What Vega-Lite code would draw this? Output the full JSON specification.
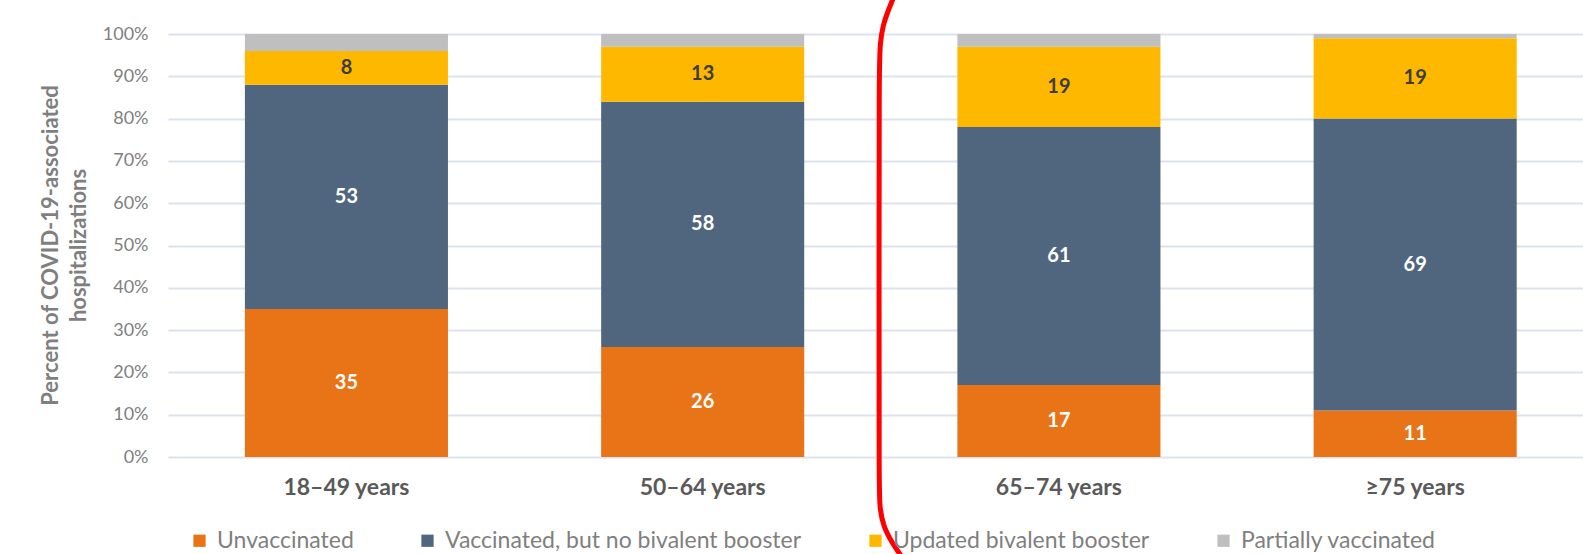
{
  "$schema": "https://vega.github.io/schema/vega-lite/v6.json",
  "width": 1415,
  "height": 423,
  "autosize": {"type": "none"},
  "padding": {"left": 168, "top": 34, "right": 0, "bottom": 97},
  "background": "#ffffff",
  "datasets": {
    "shares": [
      {"age": "18–49 years", "status": "Unvaccinated", "rank": 1, "pct": 35},
      {"age": "18–49 years", "status": "Vaccinated, but no bivalent booster", "rank": 2, "pct": 53},
      {"age": "18–49 years", "status": "Updated bivalent booster", "rank": 3, "pct": 8},
      {"age": "18–49 years", "status": "Partially vaccinated", "rank": 4, "pct": 4},
      {"age": "50–64 years", "status": "Unvaccinated", "rank": 1, "pct": 26},
      {"age": "50–64 years", "status": "Vaccinated, but no bivalent booster", "rank": 2, "pct": 58},
      {"age": "50–64 years", "status": "Updated bivalent booster", "rank": 3, "pct": 13},
      {"age": "50–64 years", "status": "Partially vaccinated", "rank": 4, "pct": 3},
      {"age": "65–74 years", "status": "Unvaccinated", "rank": 1, "pct": 17},
      {"age": "65–74 years", "status": "Vaccinated, but no bivalent booster", "rank": 2, "pct": 61},
      {"age": "65–74 years", "status": "Updated bivalent booster", "rank": 3, "pct": 19},
      {"age": "65–74 years", "status": "Partially vaccinated", "rank": 4, "pct": 3},
      {"age": "≥75 years", "status": "Unvaccinated", "rank": 1, "pct": 11},
      {"age": "≥75 years", "status": "Vaccinated, but no bivalent booster", "rank": 2, "pct": 69},
      {"age": "≥75 years", "status": "Updated bivalent booster", "rank": 3, "pct": 19},
      {"age": "≥75 years", "status": "Partially vaccinated", "rank": 4, "pct": 1}
    ],
    "bracket": [
      {"seq": 1, "pos": 2.535, "pct": 108.5},
      {"seq": 2, "pos": 2.518, "pct": 105},
      {"seq": 3, "pos": 2.506, "pct": 102},
      {"seq": 4, "pos": 2.498, "pct": 98},
      {"seq": 5, "pos": 2.495, "pct": 92},
      {"seq": 6, "pos": 2.495, "pct": 40},
      {"seq": 7, "pos": 2.495, "pct": -8},
      {"seq": 8, "pos": 2.497, "pct": -12},
      {"seq": 9, "pos": 2.507, "pct": -16.5},
      {"seq": 10, "pos": 2.533, "pct": -20.5},
      {"seq": 11, "pos": 2.562, "pct": -24}
    ]
  },
  "layer": [
    {
      "layer": [
        {
          "data": {"name": "shares"},
          "mark": {"type": "bar"},
          "encoding": {
            "x": {
              "field": "age",
              "type": "nominal",
              "sort": ["18–49 years", "50–64 years", "65–74 years", "≥75 years"],
              "scale": {"paddingInner": 0.43, "paddingOuter": 0.201, "align": 0.537},
              "axis": {
                "title": null,
                "labelAngle": 0,
                "labelFont": "Lato",
                "labelFontSize": 23,
                "labelFontWeight": "bold",
                "labelColor": "#595959",
                "labelPadding": 19,
                "domain": false,
                "ticks": false,
                "grid": false
              }
            },
            "y": {
              "field": "pct",
              "type": "quantitative",
              "stack": "zero",
              "scale": {"domain": [0, 100], "nice": false},
              "axis": {
                "values": [0, 10, 20, 30, 40, 50, 60, 70, 80, 90, 100],
                "labelExpr": "datum.value + '%'",
                "labelFont": "Lato",
                "labelFontSize": 18,
                "labelColor": "#808080",
                "labelPadding": 20,
                "domain": false,
                "ticks": false,
                "grid": true,
                "gridColor": "#dce3ef",
                "gridWidth": 2,
                "title": ["Percent of COVID-19-associated", "hospitalizations"],
                "titleFont": "Lato",
                "titleFontSize": 22,
                "titleFontWeight": "bold",
                "titleColor": "#7f7f7f",
                "titleAngle": -90,
                "titleBaseline": "top",
                "titleAlign": "center",
                "titleLineHeight": 28,
                "titleX": -128,
                "titleY": 211
              }
            },
            "color": {
              "field": "status",
              "type": "nominal",
              "scale": {
                "domain": ["Unvaccinated", "Vaccinated, but no bivalent booster", "Updated bivalent booster", "Partially vaccinated"],
                "range": ["#e97317", "#50667e", "#ffb800", "#bfbfbf"]
              },
              "legend": {
                "title": null,
                "orient": "none",
                "direction": "horizontal",
                "legendX": 20,
                "legendY": 495,
                "symbolType": "square",
                "symbolSize": 150,
                "symbolStrokeWidth": 0,
                "labelFont": "Lato",
                "labelFontSize": 23,
                "labelColor": "#7f7f7f",
                "labelOffset": 6,
                "labelLimit": 600,
                "columnPadding": 62
              }
            },
            "order": {"field": "rank", "type": "quantitative"}
          }
        },
        {
          "data": {"name": "shares"},
          "transform": [
            {"stack": "pct", "groupby": ["age"], "sort": [{"field": "rank"}], "as": ["lo", "hi"]},
            {"filter": "datum.status !== 'Partially vaccinated'"},
            {"calculate": "(datum.lo + datum.hi) / 2", "as": "mid"}
          ],
          "mark": {"type": "text", "font": "Lato", "fontSize": 20, "fontWeight": "bold", "baseline": "middle", "align": "center"},
          "encoding": {
            "x": {"field": "age", "type": "nominal", "sort": ["18–49 years", "50–64 years", "65–74 years", "≥75 years"]},
            "y": {"field": "mid", "type": "quantitative"},
            "text": {"field": "pct", "type": "quantitative"},
            "color": {
              "condition": {"test": "datum.status === 'Updated bivalent booster'", "value": "#3d3d3d"},
              "value": "#ffffff"
            }
          }
        }
      ]
    },
    {
      "data": {"name": "bracket"},
      "mark": {"type": "line", "color": "#ff0000", "strokeWidth": 5, "interpolate": "basis", "clip": false},
      "encoding": {
        "x": {"field": "pos", "type": "quantitative", "scale": {"domain": [0.499, 4.471], "nice": false, "zero": false}, "axis": null},
        "y": {"field": "pct", "type": "quantitative", "scale": {"domain": [0, 100], "nice": false}, "axis": null},
        "order": {"field": "seq", "type": "quantitative"}
      }
    }
  ],
  "resolve": {"scale": {"x": "independent", "y": "independent"}},
  "config": {
    "view": {"stroke": null},
    "font": "Lato"
  }
}
